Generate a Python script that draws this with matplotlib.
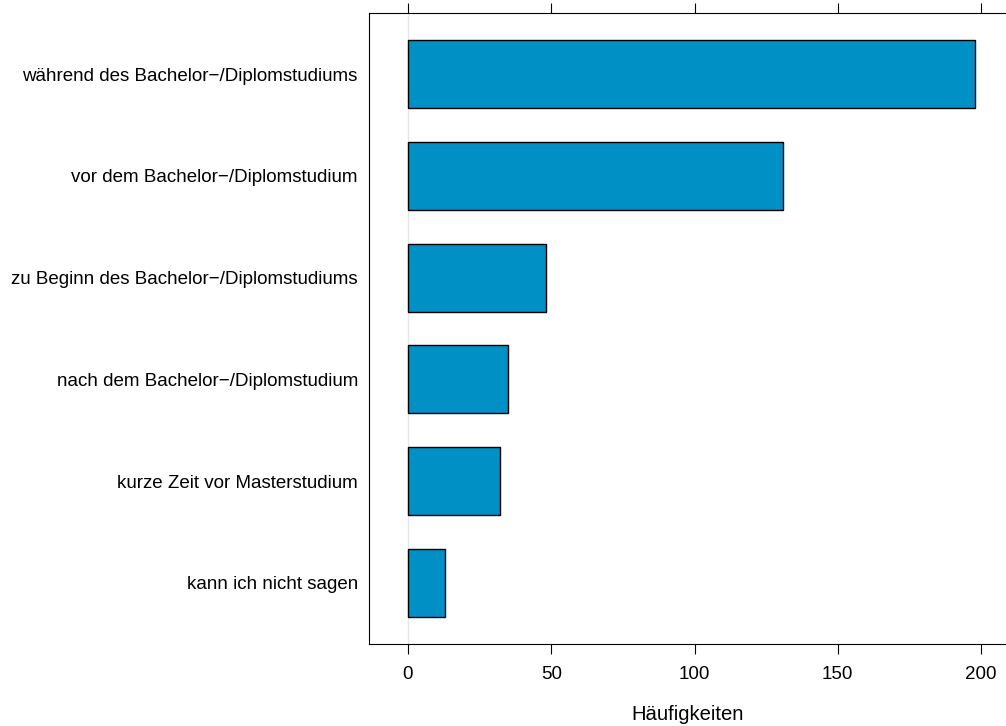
import matplotlib
matplotlib.use("Agg")
import matplotlib.pyplot as plt

plt.rcParams['font.family'] = ['Liberation Sans', 'DejaVu Sans']

# categories from bottom to top
labels = ['kann ich nicht sagen', 'kurze Zeit vor Masterstudium',
          'nach dem Bachelor\u2212/Diplomstudium',
          'zu Beginn des Bachelor\u2212/Diplomstudiums',
          'vor dem Bachelor\u2212/Diplomstudium',
          'w\u00e4hrend des Bachelor\u2212/Diplomstudiums']
counts = [13, 32, 35, 48, 131, 198]
xticks = [0, 50, 100, 150, 200]

fig = plt.figure(figsize=(10.06, 7.26), dpi=100)
# axes runs past the right edge of the figure, as in the original
ax = fig.add_axes([369 / 1006, 82 / 726, 651 / 1006, 631 / 726])

ypos = list(range(1, len(labels) + 1))
ax.axvline(0, color='#e6e6e6', lw=1, zorder=0)
ax.barh(ypos, counts, height=2 / 3, color='#0090c6', edgecolor='black', linewidth=1, zorder=2)

ax.set_xlim(-13.61, 213.6)
ax.set_ylim(0.4, 6.6)
ax.set_yticks(ypos)
ax.set_yticklabels(labels, fontsize=13.5)
ax.set_xticks(xticks)
ax.set_xticklabels([str(t) for t in xticks], fontsize=13.5)
ax.tick_params(axis='y', length=0, pad=8)
ax.tick_params(axis='x', direction='out', length=7.5, width=0.8, pad=8,
               top=True, labeltop=False)
for s in ax.spines.values():
    s.set_linewidth(0.8)
ax.spines['right'].set_visible(False)
ax.set_xlabel('H\u00e4ufigkeiten', fontsize=14.6, labelpad=16)
ax.xaxis.label.set_x(0.49)  # centred on the visible part of the panel

fig.savefig('out.png', dpi=100)
